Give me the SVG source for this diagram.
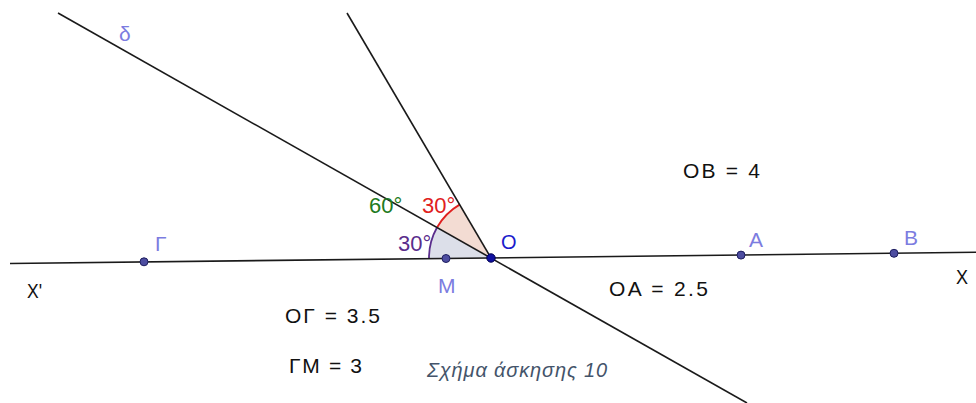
<svg xmlns="http://www.w3.org/2000/svg" width="976" height="403" viewBox="0 0 976 403">
<style>
.ln{stroke:#1a1a1a;stroke-width:1.6;fill:none}
.pt{fill:#4d4da0;stroke:#1e1e60;stroke-width:1}
.pl{font-family:"Liberation Sans",Arial,sans-serif;font-size:21px;fill:#7c7ce0}
.tx{font-family:"Liberation Sans",Arial,sans-serif;font-size:21px;fill:#111}
.ang{font-family:"Liberation Sans",Arial,sans-serif;font-size:22px}
.cap{font-family:"Liberation Sans",Arial,sans-serif;font-size:20px;font-style:italic;fill:#44546a}
</style>
<rect width="976" height="403" fill="#fff"/>
<g id="angles">
<path d="M491,258 L429,258.7 A62,62 0 0,1 437,227.5 Z" fill="#dcdfe9"/>
<path d="M491,258 L437,227.5 A62,62 0 0,1 459.6,204.6 Z" fill="#f3dcd3"/>
<path d="M429,258.7 A62,62 0 0,1 437,227.5" fill="none" stroke="#5a2d8c" stroke-width="1.8"/>
<path d="M437,227.5 A62,62 0 0,1 459.6,204.6" fill="none" stroke="#e02020" stroke-width="1.8"/>
</g>
<g id="connectors">
<line class="ln" x1="10" y1="263.5" x2="976" y2="252.3"/>
<line class="ln" x1="58" y1="13" x2="747" y2="403"/>
<line class="ln" x1="347" y1="13" x2="491" y2="258"/>
</g>
<g id="Gamma"><circle class="pt" cx="144" cy="261.8" r="4"/><text class="pl" x="155" y="251">Γ</text></g>
<g id="M"><circle class="pt" cx="446" cy="258.5" r="4"/><text class="pl" x="438" y="293">M</text></g>
<g id="A"><circle class="pt" cx="741" cy="255.1" r="4"/><text class="pl" x="749" y="247">A</text></g>
<g id="B"><circle class="pt" cx="894" cy="253.3" r="4"/><text class="pl" x="904" y="245">B</text></g>
<g id="O"><circle cx="491" cy="258" r="4.2" fill="#1010a0" stroke="#000050" stroke-width="1"/><text x="501" y="249" style="font-family:'Liberation Sans',Arial,sans-serif;font-size:20px;fill:#1a1acc">O</text></g>
<g id="delta"><text class="pl" x="119" y="41">δ</text></g>
<g id="labels">
<text class="tx" x="27" y="298" font-size="25" textLength="15" lengthAdjust="spacingAndGlyphs">X'</text>
<text class="tx" x="956" y="284" font-size="24" textLength="12" lengthAdjust="spacingAndGlyphs">X</text>
<text class="ang" x="369" y="213" fill="#217a21">60°</text>
<text class="ang" x="422" y="213" fill="#e02020">30°</text>
<text class="ang" x="398" y="251" fill="#5a2d8c">30°</text>
<text class="tx" x="683" y="178" textLength="77">OB = 4</text>
<text class="tx" x="609" y="296" textLength="99">OA = 2.5</text>
<text class="tx" x="285" y="323" textLength="95">OΓ = 3.5</text>
<text class="tx" x="289" y="373" textLength="73">ΓM = 3</text>
<text class="cap" x="427" y="377" textLength="180">Σχήμα άσκησης 10</text>
</g>
</svg>
